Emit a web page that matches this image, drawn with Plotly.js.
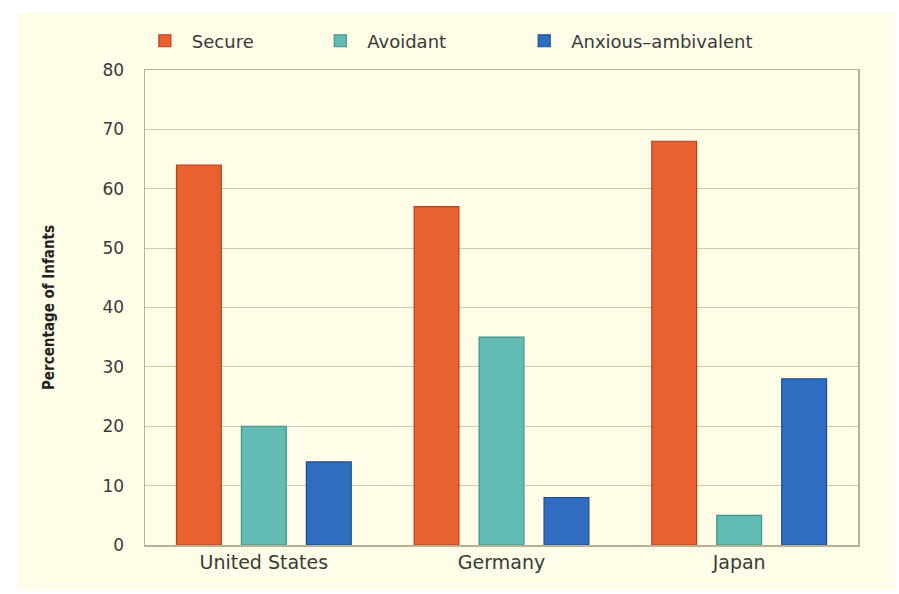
<!DOCTYPE html>
<html>
<head>
<meta charset="utf-8">
<script src="https://cdn.plot.ly/plotly-3.0.1.min.js"></script>
<style>
  html, body { margin: 0; padding: 0; background: #ffffff; }
  #chart { position: absolute; left: 18px; top: 12px; width: 877px; height: 578px; }
</style>
</head>
<body>
<div id="chart"></div>
<script>
// countries on the x axis
var countries = ["United States", "Germany", "Japan"];

// percentage of infants per attachment style
var secure = [64, 57, 68];
var avoidant = [20, 35, 5];
var anxious = [14, 8, 28];

var yTicks = [0, 10, 20, 30, 40, 50, 60, 70, 80];

var cream = '#fffde8';

// one legend per series so each entry can sit where the original has it
function make_bar(name, values, fill, edge, legendId) {
    return {
        type: 'bar',
        name: name,
        x: countries,
        y: values,
        legend: legendId,
        marker: {
            color: fill,
            line: { color: edge, width: 1.2 }
        },
        hoverinfo: 'x+y+name'
    };
}

function legend_at(xpos) {
    return {
        orientation: 'h',
        x: xpos,
        xanchor: 'left',
        y: 1.022,
        yanchor: 'bottom',
        xref: 'paper',
        yref: 'paper',
        itemwidth: 44,
        font: { size: 18, color: '#3a3a3a' },
        bgcolor: 'rgba(0,0,0,0)'
    };
}

var data = [
    make_bar('Secure', secure, '#e8612f', '#b9401a', 'legend'),
    make_bar('Avoidant', avoidant, '#62bcb4', '#40928b', 'legend2'),
    make_bar('Anxious\u2013ambivalent', anxious, '#2f6dc0', '#1b4c8f', 'legend3')
];

var layout = {
    width: 877,
    height: 578,
    paper_bgcolor: cream,
    plot_bgcolor: cream,
    margin: { l: 127, r: 37, t: 58, b: 45, autoexpand: false },
    barmode: 'group',
    bargap: 0.18,
    bargroupgap: 0.31,
    font: { family: '"DejaVu Sans", sans-serif', color: '#3a3a3a' },
    showlegend: true,
    legend: legend_at(-0.010),
    legend2: legend_at(0.236),
    legend3: legend_at(0.522),
    xaxis: {
        showline: true,
        linecolor: '#b8b196',
        linewidth: 1.5,
        mirror: true,
        ticks: '',
        automargin: false,
        tickfont: { size: 19, color: '#3a3a3a' },
        fixedrange: true
    },
    yaxis: {
        range: [0, 80],
        tickvals: yTicks,
        ticks: 'outside',
        ticklen: 16,
        tickcolor: cream,
        showline: true,
        linecolor: '#b8b196',
        linewidth: 1.5,
        mirror: true,
        showgrid: true,
        gridcolor: '#cfc8aa',
        gridwidth: 1.2,
        zeroline: false,
        automargin: false,
        tickfont: { size: 17, color: '#3a3a3a' },
        title: {
            text: 'Percentage of Infants',
            standoff: 44,
            font: { family: '"DejaVu Sans Condensed", "DejaVu Sans", sans-serif', size: 15, weight: 'bold', color: '#222' }
        },
        fixedrange: true
    }
};

Plotly.newPlot('chart', data, layout, { displayModeBar: false, staticPlot: true });
</script>
</body>
</html>
